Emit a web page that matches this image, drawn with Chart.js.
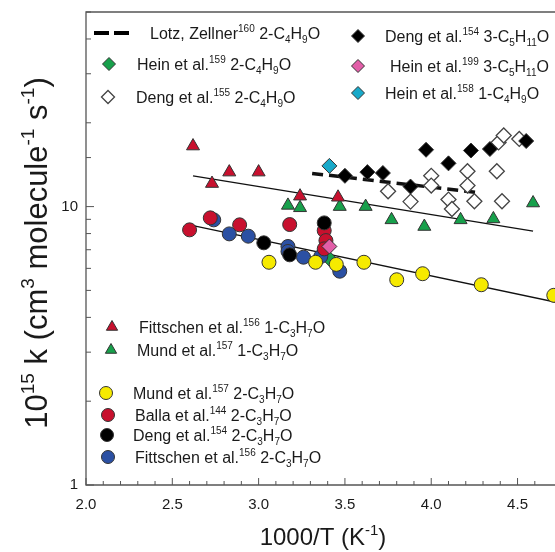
<!DOCTYPE html>
<html>
<head>
<meta charset="utf-8">
<script src="https://cdn.jsdelivr.net/npm/chart.js@4.4.0/dist/chart.umd.min.js"></script>
<style>
  html, body { margin: 0; padding: 0; background: #fff; overflow: hidden; }
  #wrap { width: 555px; height: 552px; }
</style>
</head>
<body>
<div id="wrap"><canvas id="chart" width="555" height="552"></canvas></div>
<script>
// --- data (x = 1000/T in 1/K, y = 1e15 k) ---
const fittschen1X = [2.62, 2.73, 2.83, 3.00, 3.24, 3.46];
const fittschen1Y = [16.5, 12.1, 13.3, 13.3, 10.9, 10.8];

const mund1X = [3.17, 3.24, 3.47, 3.62, 3.77, 3.96, 4.17, 4.36, 4.59];
const mund1Y = [10.1, 9.9, 10.0, 10.0, 8.96, 8.48, 8.96, 9.03, 10.3];

const mund2X = [3.06, 3.33, 3.45, 3.61, 3.80, 3.95, 4.29, 4.71];
const mund2Y = [6.31, 6.31, 6.20, 6.31, 5.46, 5.74, 5.24, 4.80];

const balla2X = [2.60, 2.72, 2.89, 3.18, 3.38, 3.39, 3.38];
const balla2Y = [8.25, 9.11, 8.60, 8.62, 8.20, 7.55, 7.05];

const deng2X = [3.03, 3.18, 3.38];
const deng2Y = [7.41, 6.71, 8.74];

const fittschen2X = [2.74, 2.83, 2.94, 3.17, 3.17, 3.26, 3.36, 3.47];
const fittschen2Y = [8.96, 7.98, 7.83, 7.19, 6.90, 6.58, 6.62, 5.86];

const deng3X = [3.50, 3.63, 3.72, 3.88, 3.97, 4.10, 4.23, 4.34, 4.55];
const deng3Y = [12.9, 13.3, 13.2, 11.8, 16.0, 14.3, 15.9, 16.1, 17.2];

const deng155X = [3.75, 3.88, 4.00, 4.00, 4.10, 4.12, 4.21, 4.21, 4.25, 4.38, 4.41, 4.39, 4.42, 4.51];
const deng155Y = [11.35, 10.42, 12.9, 11.9, 10.6, 9.8, 13.4, 11.9, 10.45, 13.4, 10.45, 17.0, 18.0, 17.5];

const hein159X = [3.41];
const hein159Y = [6.5];
const hein199X = [3.41];
const hein199Y = [7.19];
const hein158X = [3.41];
const hein158Y = [14.0];

const lotzX = [3.31, 4.26];
const lotzY = [13.16, 11.25];
const fitUpperX = [2.62, 4.59];
const fitUpperY = [12.9, 8.16];
const fitLowerX = [2.62, 4.72];
const fitLowerY = [8.55, 4.54];

const xTickLabels = ['2.0', '2.5', '3.0', '3.5', '4.0', '4.5'];
const yTickLabels = ['1', '10'];

const RED = '#c8102e', GREEN = '#17a04b', YELLOW = '#f6ea00', BLUE = '#2b50a3',
      PINK = '#e25ea8', CYAN = '#18a9c9', EDGE = '#333';
const FONT = '"Liberation Sans", Arial, sans-serif';

function pts(xs, ys) {
  return xs.map((x, i) => ({ x, y: ys[i] }));
}

function marker(label, xs, ys, style, color, order, radius) {
  return {
    label,
    data: pts(xs, ys),
    pointStyle: style,
    pointRadius: radius,
    pointHoverRadius: radius,
    backgroundColor: color,
    borderColor: color === '#fff' ? '#444' : EDGE,
    pointBorderWidth: color === '#fff' ? 1.3 : 1,
    showLine: false,
    order
  };
}

function line(label, xs, ys, width, dash, order) {
  return {
    label,
    data: pts(xs, ys),
    showLine: true,
    pointRadius: 0,
    borderColor: '#111',
    borderWidth: width,
    borderDash: dash,
    order
  };
}

const datasets = [
  line('fit upper', fitUpperX, fitUpperY, 1.3, [], 30),
  line('fit lower', fitLowerX, fitLowerY, 1.3, [], 30),
  line('Lotz, Zellner', lotzX, lotzY, 3.5, [11, 6], 29),
  marker('Deng 155', deng155X, deng155Y, 'rectRot', '#fff', 20, 7.5),
  marker('Deng 154 3-C5', deng3X, deng3Y, 'rectRot', '#000', 19, 7.5),
  marker('Mund 1', mund1X, mund1Y, 'triangle', GREEN, 18, 7.5),
  marker('Fittschen 1', fittschen1X, fittschen1Y, 'triangle', RED, 17, 7.5),
  marker('Hein 159', hein159X, hein159Y, 'rectRot', GREEN, 16, 7.5),
  marker('Fittschen 2', fittschen2X, fittschen2Y, 'circle', BLUE, 15, 7),
  marker('Balla', balla2X, balla2Y, 'circle', RED, 14, 7),
  marker('Deng 154 2-C3', deng2X, deng2Y, 'circle', '#000', 13, 7),
  marker('Mund 2', mund2X, mund2Y, 'circle', YELLOW, 12, 7),
  marker('Hein 199', hein199X, hein199Y, 'rectRot', PINK, 11, 7.5),
  marker('Hein 158', hein158X, hein158Y, 'rectRot', CYAN, 10, 7.5)
];

// legend entries: [symbol, color, symbol x, y, text x, text]
const legendItems = [
  ['dash', '#000', 112, 33, 150, 'Lotz, Zellner^{160} 2-C_{4}H_{9}O'],
  ['rectRot', GREEN, 109, 64, 137, 'Hein et al.^{159} 2-C_{4}H_{9}O'],
  ['rectRot', '#fff', 108, 97, 136, 'Deng et al.^{155} 2-C_{4}H_{9}O'],
  ['rectRot', '#000', 358, 36, 385, 'Deng et al.^{154} 3-C_{5}H_{11}O'],
  ['rectRot', PINK, 358, 66, 390, 'Hein et al.^{199} 3-C_{5}H_{11}O'],
  ['rectRot', CYAN, 358, 93, 385, 'Hein et al.^{158} 1-C_{4}H_{9}O'],
  ['triangle', RED, 112, 327, 139, 'Fittschen et al.^{156} 1-C_{3}H_{7}O'],
  ['triangle', GREEN, 111, 350, 137, 'Mund et al.^{157} 1-C_{3}H_{7}O'],
  ['circle', YELLOW, 106, 393, 133, 'Mund et al.^{157} 2-C_{3}H_{7}O'],
  ['circle', RED, 108, 415, 135, 'Balla et al.^{144} 2-C_{3}H_{7}O'],
  ['circle', '#000', 107, 435, 133, 'Deng et al.^{154} 2-C_{3}H_{7}O'],
  ['circle', BLUE, 108, 457, 135, 'Fittschen et al.^{156} 2-C_{3}H_{7}O']
];

function parseRich(str) {
  const parts = [];
  const re = /([\^_])\{([^}]*)\}|([^\^_]+)/g;
  let m;
  while ((m = re.exec(str))) {
    if (m[3]) parts.push([m[3], 'n']);
    else parts.push([m[2], m[1] === '^' ? 'sup' : 'sub']);
  }
  return parts;
}

function richWidth(ctx, parts, size) {
  let w = 0;
  parts.forEach(([t, k]) => {
    ctx.font = (k === 'n' ? size : Math.round(size * 0.62)) + 'px ' + FONT;
    w += ctx.measureText(t).width;
  });
  return w;
}

// draws rich text with its alphabetic baseline at y
function drawRich(ctx, str, x, y, size) {
  const parts = parseRich(str);
  ctx.textBaseline = 'alphabetic';
  ctx.textAlign = 'left';
  parts.forEach(([t, k]) => {
    let dy = 0;
    if (k === 'n') ctx.font = size + 'px ' + FONT;
    else {
      ctx.font = Math.round(size * 0.62) + 'px ' + FONT;
      dy = k === 'sup' ? -size * 0.42 : size * 0.22;
    }
    ctx.fillText(t, x, y + dy);
    x += ctx.measureText(t).width;
  });
}

const decorations = {
  id: 'decorations',
  beforeDatasetsDraw(chart) {
    const { ctx, chartArea: a, scales: { x, y } } = chart;
    ctx.save();
    ctx.strokeStyle = '#555';
    ctx.lineWidth = 1.3;
    ctx.beginPath();
    ctx.moveTo(a.right + 2, a.top);
    ctx.lineTo(a.left, a.top);
    ctx.lineTo(a.left, a.bottom);
    ctx.lineTo(a.right + 2, a.bottom);
    ctx.stroke();

    ctx.lineWidth = 1;
    ctx.beginPath();
    x.ticks.forEach(t => {
      const v = Math.round(t.value * 10) / 10;
      if (Math.abs(v - t.value) > 1e-6) return;
      const px = x.getPixelForValue(v);
      const len = Math.abs(v * 2 - Math.round(v * 2)) < 1e-6 ? 7 : 4;
      ctx.moveTo(px, a.bottom);
      ctx.lineTo(px, a.bottom - len);
    });
    y.ticks.forEach(t => {
      const py = y.getPixelForValue(t.value);
      const major = t.value === 1 || t.value === 10;
      ctx.moveTo(a.left, py);
      ctx.lineTo(a.left + (major ? 8 : 5), py);
    });
    ctx.stroke();
    ctx.restore();
  },
  afterDraw(chart) {
    const { ctx } = chart;
    ctx.save();
    legendItems.forEach(([sym, color, sx, sy, tx, text]) => {
      if (sym === 'dash') {
        ctx.fillStyle = '#000';
        ctx.fillRect(sx - 18, sy - 2, 15, 4);
        ctx.fillRect(sx + 2, sy - 2, 15, 4);
      } else {
        ctx.fillStyle = color;
        ctx.strokeStyle = color === '#fff' ? '#444' : EDGE;
        ctx.lineWidth = color === '#fff' ? 1.3 : 1;
        Chart.helpers.drawPoint(ctx, {
          pointStyle: sym, radius: 6.5, rotation: 0, borderWidth: ctx.lineWidth
        }, sx, sy);
      }
      ctx.fillStyle = '#1a1a1a';
      drawRich(ctx, text, tx, sy + 6, 16);
    });

    // axis titles
    ctx.fillStyle = '#1a1a1a';
    const xt = '1000/T (K^{-1})';
    const xw = richWidth(ctx, parseRich(xt), 24);
    drawRich(ctx, xt, 323 - xw / 2, 545, 24);

    const yt = '10^{15} k (cm^{3} molecule^{-1} s^{-1})';
    const yw = richWidth(ctx, parseRich(yt), 31);
    ctx.translate(47, 253);
    ctx.rotate(-Math.PI / 2);
    drawRich(ctx, yt, -yw / 2, 0, 31);
    ctx.restore();
  }
};

new Chart(document.getElementById('chart'), {
  type: 'scatter',
  data: { datasets },
  options: {
    responsive: false,
    animation: false,
    events: [],
    layout: { autoPadding: false, padding: { top: 12, right: 0, left: 0, bottom: 0 } },
    plugins: { legend: { display: false }, tooltip: { enabled: false } },
    scales: {
      x: {
        type: 'linear',
        min: 2.0,
        max: 4.717,
        grid: { display: false, drawTicks: false },
        border: { display: false },
        ticks: {
          stepSize: 0.1,
          maxTicksLimit: 100,
          autoSkip: false,
          maxRotation: 0,
          padding: 11,
          color: '#1a1a1a',
          font: { family: FONT, size: 15 },
          callback: v => {
            const s = (Math.round(v * 10) / 10).toFixed(1);
            return xTickLabels.includes(s) && Math.abs(v * 10 - Math.round(v * 10)) < 1e-6 ? s : '';
          }
        },
        afterFit: s => { s.height = 67; s.paddingLeft = 0; s.paddingRight = 0; }
      },
      y: {
        type: 'logarithmic',
        min: 1,
        max: 50,
        grid: { display: false, drawTicks: false },
        border: { display: false },
        ticks: {
          autoSkip: false,
          padding: 8,
          color: '#1a1a1a',
          font: { family: FONT, size: 15 },
          callback: v => (yTickLabels.includes(String(v)) ? String(v) : '')
        },
        afterFit: s => { s.width = 86; s.paddingTop = 0; s.paddingBottom = 0; }
      }
    }
  },
  plugins: [decorations]
});
</script>
</body>
</html>
